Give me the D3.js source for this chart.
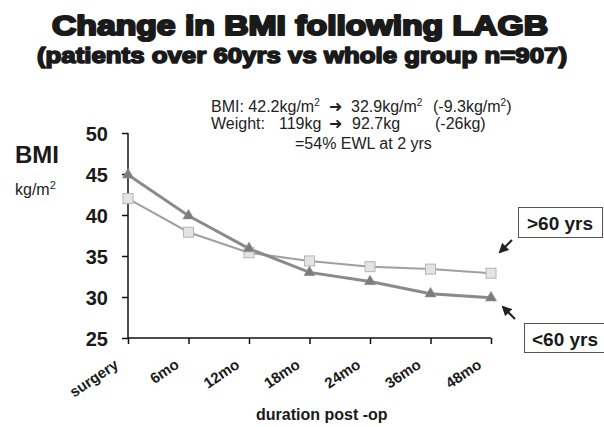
<!DOCTYPE html>
<html><head><meta charset="utf-8">
<script src="https://cdn.jsdelivr.net/npm/d3@7"></script>
<style>body{margin:0;background:#fff}svg{display:block}</style>
</head><body>
<svg id="c" width="604" height="427"></svg>
<script>
const categories = ["surgery","6mo","12mo","18mo","24mo","36mo","48mo"];
const over60 = [42.0, 37.9, 35.4, 34.4, 33.7, 33.4, 32.9];
const under60 = [44.9, 39.9, 35.9, 33.0, 31.9, 30.4, 29.9];
const yTicks = [25,30,35,40,45,50];

const svg = d3.select("#c");
const font = "Liberation Sans, Arial, sans-serif";
const x = d3.scalePoint().domain(categories).range([128, 491]);
const y = d3.scaleLinear().domain([25,50]).range([338, 133]);

// titles
function fitText(sel, w){ sel.attr("textLength", w).attr("lengthAdjust","spacingAndGlyphs"); }
svg.append("text").attr("x",52).attr("y",35).attr("font-family",font).attr("font-weight","900")
  .attr("font-size",28).attr("fill","#1a1a1a").attr("stroke","#1a1a1a").attr("stroke-width",2.2)
  .attr("stroke-linejoin","round")
  .text("Change in BMI following LAGB").call(fitText,496);
svg.append("text").attr("x",37).attr("y",63).attr("font-family",font).attr("font-weight","900")
  .attr("font-size",22).attr("fill","#1a1a1a").attr("stroke","#1a1a1a").attr("stroke-width",1.6)
  .attr("stroke-linejoin","round")
  .text("(patients over 60yrs vs whole group n=907)").call(fitText,530);

// annotation
const ann = svg.append("g").attr("font-family",font).attr("font-size",16).attr("fill","#222");
function part(xp, yp, t){ ann.append("text").attr("x",xp).attr("y",yp).text(t); }
function sup(xp, yp, t, tail){
  const tx = ann.append("text").attr("x",xp).attr("y",yp);
  tx.append("tspan").text(t);
  tx.append("tspan").attr("font-size",10).attr("dy",-6).text("2");
  if (tail) tx.append("tspan").attr("dy",6).text(tail);
}
sup(211,112,"BMI: 42.2kg/m");
part(329,112,"➜");
sup(351,112,"32.9kg/m");
sup(433,112,"(-9.3kg/m",")");
part(211,129,"Weight:");
part(279,129,"119kg");
part(329,129,"➜");
part(352,129,"92.7kg");
part(435,129,"(-26kg)");
part(295,149,"=54% EWL at 2 yrs");

// y title
svg.append("text").attr("x",15).attr("y",163).attr("font-family",font).attr("font-weight","bold")
  .attr("font-size",24).attr("fill","#1a1a1a").text("BMI");
const kg = svg.append("text").attr("x",15).attr("y",195).attr("font-family",font)
  .attr("font-size",16).attr("fill","#222");
kg.append("tspan").text("kg/m");
kg.append("tspan").attr("font-size",11).attr("dy",-6).text("2");

// axes
const yAxis = svg.append("g").attr("transform","translate(128,0)")
  .call(d3.axisLeft(y).tickValues(yTicks).tickSize(6).tickPadding(14).tickFormat(d3.format("d")));
yAxis.select(".domain").attr("stroke","#111").attr("stroke-width",1.5).attr("d","M0,133V338");
yAxis.selectAll(".tick line").attr("stroke","#111").attr("stroke-width",1.5);
yAxis.selectAll(".tick text").attr("font-family",font).attr("font-weight","bold").attr("font-size",20).attr("fill","#1a1a1a").attr("dy","0.36em");

const xAxis = svg.append("g").attr("transform","translate(0,338)")
  .call(d3.axisBottom(x).tickSize(6).tickPadding(8));
xAxis.select(".domain").attr("stroke","#111").attr("stroke-width",1.5).attr("d","M128,0H491");
xAxis.selectAll(".tick line").attr("stroke","#111").attr("stroke-width",1.5);
xAxis.selectAll(".tick text").attr("font-family",font).attr("font-weight","bold").attr("font-size",15)
  .attr("fill","#1a1a1a").attr("text-anchor","end").attr("dy",0)
  .attr("transform","translate(-9,29) rotate(-34)").attr("y",0).attr("x",0);

svg.append("text").attr("x",256).attr("y",420).attr("font-family",font).attr("font-weight","bold")
  .attr("font-size",16).attr("fill","#1a1a1a").text("duration post -op");

// lines
const line = d3.line().x((d,i)=>x(categories[i])).y(d=>y(d));
svg.append("path").datum(over60).attr("d",line).attr("fill","none").attr("stroke","#a0a0a0").attr("stroke-width",2);
svg.append("path").datum(under60).attr("d",line).attr("fill","none").attr("stroke","#8a8a8a").attr("stroke-width",3);
svg.selectAll(".sq").data(over60).join("rect").attr("class","sq")
  .attr("x",(d,i)=>x(categories[i])-5).attr("y",d=>y(d)-5).attr("width",10).attr("height",10)
  .attr("fill","#e4e4e4").attr("stroke","#b5b5b5").attr("stroke-width",1);
svg.selectAll(".tri").data(under60).join("path").attr("class","tri")
  .attr("d",d3.symbol().type(d3.symbolTriangle).size(55))
  .attr("transform",(d,i)=>`translate(${x(categories[i])},${y(d)})`)
  .attr("fill","#7c7c7c").attr("stroke","#999").attr("stroke-width",0.5);

// legend boxes
svg.append("rect").attr("x",518.5).attr("y",207.5).attr("width",84).attr("height",30).attr("fill","#fff").attr("stroke","#555");
svg.append("rect").attr("x",524.5).attr("y",323.5).attr("width",84).attr("height",29).attr("fill","#fff").attr("stroke","#555");
const lg = svg.append("g").attr("font-family",font).attr("font-weight","bold").attr("font-size",19).attr("fill","#1a1a1a");
lg.append("text").attr("x",527).attr("y",230).text(">60 yrs");
lg.append("text").attr("x",532).attr("y",346).text("<60 yrs");

// arrows
svg.append("defs").append("marker").attr("id","ah").attr("viewBox","0 0 10 10").attr("refX",8).attr("refY",5)
  .attr("markerWidth",5).attr("markerHeight",5).attr("orient","auto")
  .append("path").attr("d","M0,0L10,5L0,10z").attr("fill","#222");
svg.append("line").attr("x1",512).attr("y1",240).attr("x2",500).attr("y2",252).attr("stroke","#222").attr("stroke-width",2).attr("marker-end","url(#ah)");
svg.append("line").attr("x1",515).attr("y1",319).attr("x2",503).attr("y2",307).attr("stroke","#222").attr("stroke-width",2).attr("marker-end","url(#ah)");
</script>
</body></html>
